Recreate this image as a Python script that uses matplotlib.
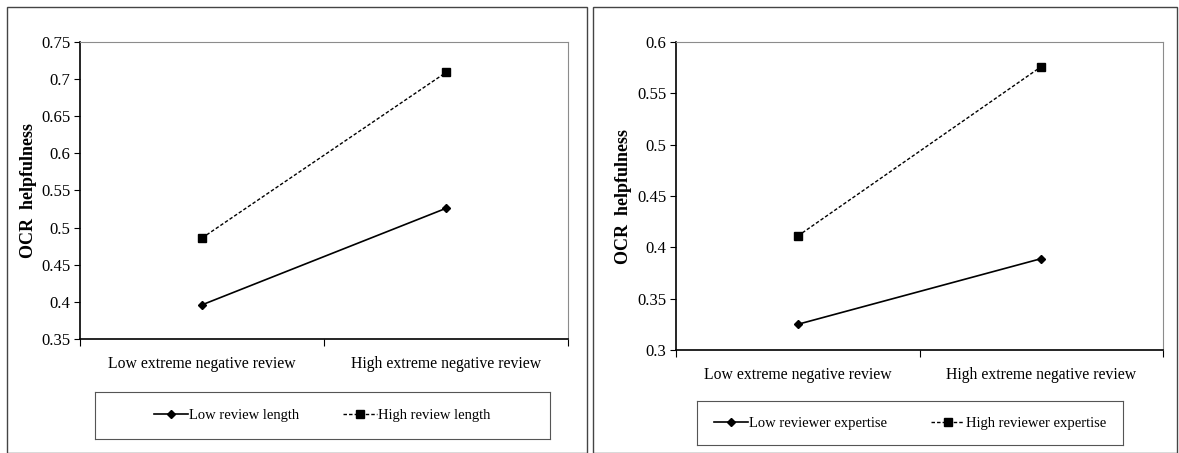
import numpy as np
import matplotlib
matplotlib.use("Agg")
import matplotlib.pyplot as plt
from matplotlib.patches import Rectangle

plt.rcParams['font.family'] = ['Liberation Serif', 'DejaVu Serif']

# categories on the x axis
categories = ['Low extreme negative review', 'High extreme negative review']

# left panel : review length
left_low = [0.396, 0.526]
left_high = [0.486, 0.709]
left_names = ['Low review length', 'High review length']
left_ticks = [0.35, 0.4, 0.45, 0.5, 0.55, 0.6, 0.65, 0.7, 0.75]

# right panel : reviewer expertise
right_low = [0.325, 0.389]
right_high = [0.411, 0.576]
right_names = ['Low reviewer expertise', 'High reviewer expertise']
right_ticks = [0.3, 0.35, 0.4, 0.45, 0.5, 0.55, 0.6]

W, H = 1179, 453
fig = plt.figure(figsize=(W / 100, H / 100), dpi=100)


def px(x0, y0, x1, y1):
    # pixel box -> figure fraction [left, bottom, width, height]
    return [x0 / W, 1 - y1 / H, (x1 - x0) / W, (y1 - y0) / H]


def panel(box, lowv, highv, names, ticks, legbox, ylab_x):
    ax = fig.add_axes(px(*box))
    xs = np.array([0.5, 1.5])
    l1, = ax.plot(xs, lowv, '-', color='black', lw=1.2, marker='D', ms=4.5)
    l2, = ax.plot(xs, highv, '--', color='black', lw=1.0, marker='s', ms=5.5,
                  dashes=(2.5, 1.5))
    ax.set_xlim(0, 2)
    ax.set_ylim(ticks[0], ticks[-1])
    ax.set_yticks(ticks)
    ax.set_yticklabels(['%g' % t for t in ticks])
    ax.set_xticks([0, 1, 2])
    ax.set_xticklabels([])
    ax.set_xticks(xs, minor=True)
    ax.set_xticklabels(categories, minor=True)
    ax.tick_params(axis='x', which='minor', length=0, pad=12, labelsize=11.3)
    ax.tick_params(axis='x', which='major', length=5, direction='out')
    ax.tick_params(axis='y', length=4, direction='out', labelsize=12, pad=3)
    for s in ['top', 'right']:
        ax.spines[s].set_color('#8c8c8c')
    for s in ['left', 'bottom']:
        ax.spines[s].set_color('black')
        ax.spines[s].set_linewidth(1.2)
    ax.set_ylabel('OCR  helpfulness', fontweight='bold', fontsize=13)
    ax.yaxis.set_label_coords(ylab_x, 0.5)

    # legend in its own box
    lax = fig.add_axes(px(*legbox))
    lax.set_xticks([])
    lax.set_yticks([])
    for s in lax.spines.values():
        s.set_color('#555555')
    lax.legend([l1, l2], names, loc='center', ncol=2, frameon=False,
               fontsize=10.5, handlelength=2.3, handletextpad=0.1,
               columnspacing=3.0)
    return ax


panel((80, 42, 568, 339), left_low, left_high, left_names, left_ticks,
      (95, 392, 550, 439), -0.088)
panel((676, 42, 1163, 350), right_low, right_high, right_names, right_ticks,
      (697, 401, 1123, 445), -0.09)

# outer frames of the two panels
fig.patches.append(Rectangle((7 / W, 0), (587 - 7) / W, 1 - 7 / H,
                             transform=fig.transFigure, fill=False,
                             ec='#444444', lw=1.0))
fig.patches.append(Rectangle((593 / W, 0), (1177 - 593) / W, 1 - 7 / H,
                             transform=fig.transFigure, fill=False,
                             ec='#444444', lw=1.0))

fig.savefig('out.png', dpi=100)
